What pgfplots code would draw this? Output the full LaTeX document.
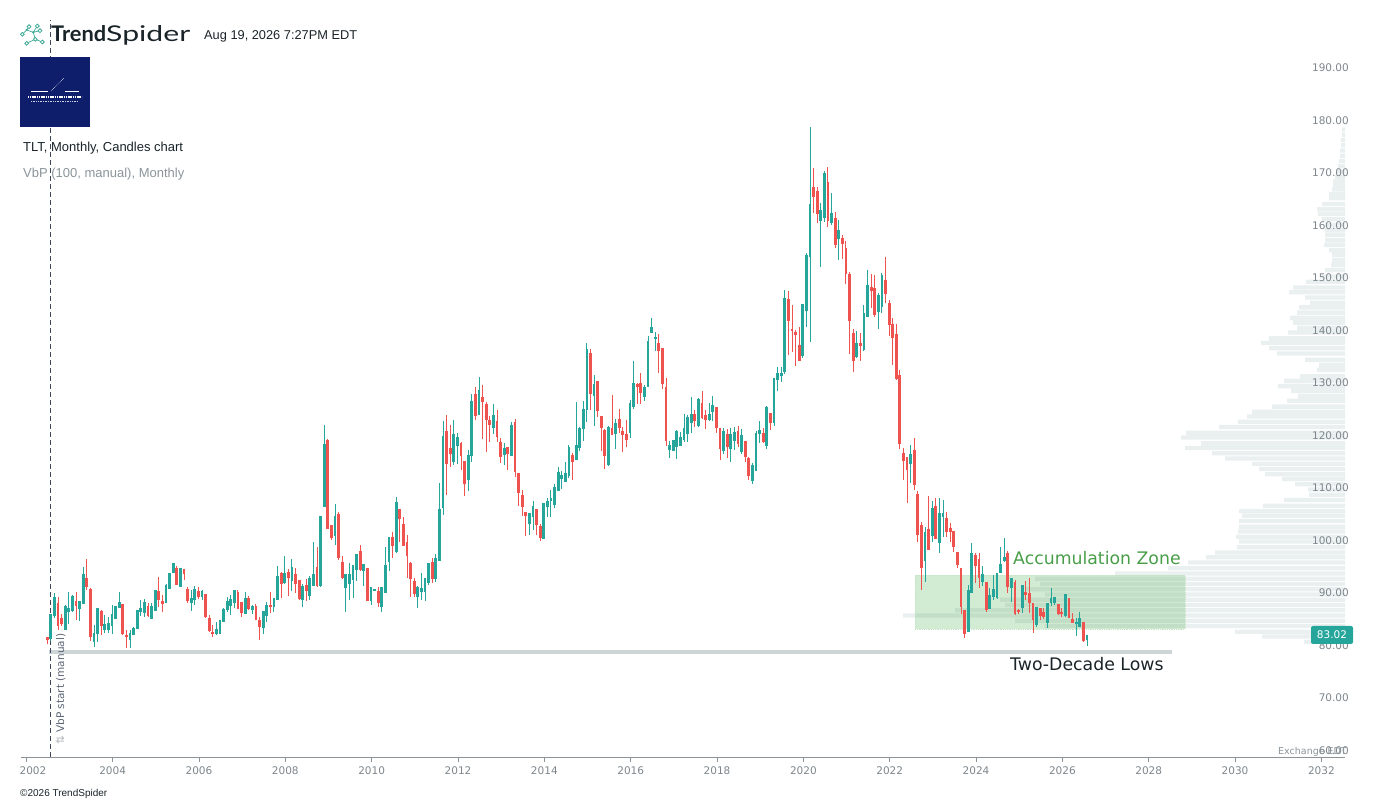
\documentclass[border=0pt]{standalone}
\usepackage{fontspec}
\setmainfont{DejaVu Sans}
\newfontfamily\lib{Liberation Sans}
\newfontfamily\lato{Lato}
\usepackage{graphicx}
\usepackage{pgfplots}
\usepackage{pgfplotstable}
\pgfplotsset{compat=1.18}
\definecolor{upc}{RGB}{38,166,154}
\definecolor{dnc}{RGB}{239,83,80}
\definecolor{vbpc}{RGB}{234,239,240}
\definecolor{tickc}{RGB}{125,134,140}
\definecolor{axisc}{RGB}{140,146,150}
\definecolor{zoneg}{RGB}{76,175,80}
\definecolor{zonee}{RGB}{200,228,200}
\definecolor{accg}{RGB}{72,158,72}
\definecolor{lowc}{RGB}{205,213,214}
\definecolor{dashc}{RGB}{62,74,92}
\definecolor{navy}{RGB}{14,30,107}
\definecolor{darkt}{RGB}{25,35,40}
\definecolor{graytxt}{RGB}{138,148,153}
\definecolor{logoc}{RGB}{60,170,150}

\pgfplotstableread{
i o h l c
0 81.43 81.68 80.29 81.17
1 81.24 86.0 80.9 85.81
2 85.68 89.94 85.3 89.17
3 87.90 89.30 82.95 83.78
4 85.05 86.0 83.72 84.10
5 82.95 87.71 82.95 87.40
6 86.44 90.25 84.10 87.02
7 86.57 89.62 86.44 89.30
8 88.35 90.25 84.86 87.71
9 86.95 88.45 84.73 88.35
10 88.03 95.02 88.0 93.43
11 92.67 96.48 90.57 91.21
12 90.70 90.89 80.92 81.68
13 80.73 83.90 79.78 82.32
14 82.30 87.08 80.73 86.95
15 86.44 86.76 82.0 83.72
16 83.08 85.81 82.32 83.90
17 83.08 85.49 82.45 84.22
18 83.90 87.71 82.13 85.81
19 85.05 87.5 85.0 87.40
20 87.27 90.25 87.08 88.22
21 87.71 87.8 82.0 82.19
22 81.81 82.95 79.46 81.68
23 81.17 82.95 79.46 82.32
24 82.13 83.46 82.0 83.27
25 83.27 86.76 83.2 86.63
26 86.44 88.67 85.62 87.08
27 86.25 88.79 85.37 88.16
28 87.40 88.16 85.49 85.68
29 85.17 88.16 84.98 87.40
30 86.76 90.57 86.7 90.44
31 90.25 93.11 87.40 88.67
32 88.35 89.62 86.44 88.03
33 88.16 91.65 88.1 91.33
34 90.89 93.87 90.8 93.75
35 93.87 95.78 93.75 95.52
36 94.70 95.14 91.52 91.71
37 91.21 94.83 91.1 94.70
38 94.38 94.5 92.48 93.75
39 90.57 91.21 88.16 88.48
40 88.16 90.57 86.63 88.86
41 88.79 91.33 87.71 90.70
42 90.25 91.21 88.79 89.30
43 89.30 90.57 88.67 90.25
44 89.62 89.7 85.3 85.49
45 85.05 85.81 82.63 82.76
46 82.44 83.90 81.68 82.32
47 82.32 84.54 82.0 83.08
48 82.32 84.86 82.19 84.67
49 84.54 87.08 84.5 86.89
50 86.76 89.30 86.44 88.35
51 87.7 89.6 85.8 88.7
52 88.2 90.6 87.2 90.4
53 90.1 90.6 86.9 87.0
54 88.2 88.3 85.5 86.2
55 86.1 90.1 85.9 89.0
56 89.0 89.5 86.8 87.0
57 86.8 87.7 86.0 87.5
58 87.4 87.9 84.8 85.0
59 84.7 85.5 81.0 83.7
60 83.4 86.5 82.1 86.4
61 85.8 88.2 84.5 87.7
62 87.7 90.1 86.1 87.4
63 87.4 89.0 86.3 88.9
64 88.7 95.1 88.6 93.2
65 93.7 94.0 89.1 91.8
66 92.0 97.0 91.8 93.7
67 93.9 94.5 89.5 92.9
68 92.3 96.5 90.4 94.8
69 93.6 94.8 89.9 91.8
70 92.3 92.4 88.7 88.9
71 88.8 91.7 87.4 91.2
72 91.5 92.7 88.5 90.4
73 89.6 93.3 88.6 92.7
74 91.5 99.8 91.4 93.6
75 94.8 98.8 91.2 91.5
76 91.4 104.6 91.2 104.5
77 106.4 122.0 106.3 118.2
78 119.0 119.3 102.2 102.3
79 102.8 102.9 100.1 100.5
80 100.9 107.0 99.1 104.5
81 104.9 105.5 96.3 96.7
82 95.8 97.1 92.6 92.9
83 91.0 93.6 86.4 93.5
84 91.8 95.8 88.7 93.6
85 92.5 95.4 89.1 95.3
86 94.4 97.5 92.3 97.4
87 97.8 99.1 94.1 94.4
88 94.3 95.6 91.4 95.5
89 94.6 94.7 88.4 88.5
90 88.5 91.2 87.7 91.1
91 90.6 90.8 90.4 90.6
92 90.3 91.1 87.4 88.2
93 87.4 91.1 86.4 91.0
94 90.1 98.8 90.0 95.3
95 96.0 100.7 94.1 100.5
96 100.5 101.7 96.6 99.1
97 97.9 108.2 97.7 107.3
98 105.8 105.9 99.8 104.2
99 103.1 104.4 99.0 99.1
100 99.6 101.0 92.8 97.1
101 95.52 95.97 89.30 92.67
102 92.16 92.79 89.17 89.94
103 89.30 91.33 87.08 91.01
104 90.25 93.75 88.67 90.89
105 90.25 92.8 88.54 92.67
106 91.97 95.8 91.5 95.52
107 95.78 96.60 91.97 92.67
108 92.79 97.43 92.16 96.60
109 96.28 110.89 96.0 105.81
110 106.25 122.82 104.86 119.78
111 120.73 123.90 108.67 114.57
112 117.56 122.0 114.06 116.48
113 115.02 122.95 114.38 120.09
114 118.06 120.54 114.57 119.65
115 118.51 118.82 113.43 116.10
116 115.02 115.2 108.48 110.76
117 111.71 117.24 109.49 116.10
118 116.10 127.90 115.02 126.44
119 127.71 129.17 122.95 123.90
120 124.09 131.21 124.0 128.48
121 127.27 129.62 119.33 126.44
122 125.81 126.32 116.92 122.95
123 122.82 123.71 118.82 122.0
124 121.49 126.0 120.28 123.71
125 122.63 124.86 118.82 119.90
126 118.57 119.46 114.70 115.97
127 116.29 118.51 114.38 117.43
128 117.68 117.8 113.43 116.60
129 116.10 122.63 116.0 121.87
130 122.44 123.08 112.16 113.11
131 112.67 112.8 106.63 109.11
132 108.48 109.62 104.67 106.44
133 105.30 105.4 100.92 104.67
134 103.14 105.3 101.05 105.17
135 104.54 107.59 102.0 106.44
136 105.81 105.9 101.05 103.14
137 102.63 103.14 99.97 100.54
138 100.29 107.1 100.2 107.08
139 106.44 108.16 104.54 107.33
140 107.71 109.62 104.54 107.97
141 106.95 110.76 106.13 110.06
142 109.49 114.06 109.4 112.92
143 111.84 113.24 109.75 112.35
144 111.21 115.02 111.08 112.79
145 112.29 118.19 111.84 117.75
146 116.10 116.60 111.52 115.02
147 115.52 126.44 115.4 118.0
148 117.68 121.68 117.05 121.24
149 121.24 126.63 119.01 124.86
150 124.86 137.6 122.6 136.3
151 135.52 136.5 124.9 128.03
152 127.71 131.52 121.81 129.62
153 130.25 130.4 123.46 124.67
154 123.59 123.7 117.05 121.49
155 120.92 121.24 113.62 116.16
156 114.38 121.87 114.25 121.49
157 121.24 127.71 120.0 120.10
158 120.29 123.14 117.43 122.32
159 122.95 125.05 120.54 121.49
160 120.73 121.68 116.86 120.10
161 120.10 122.95 117.87 119.14
162 120.54 126.76 119.59 126.0
163 125.49 134.19 125.05 129.81
164 129.62 129.94 126.0 129.30
165 129.81 131.84 126.0 128.16
166 127.40 129.62 126.57 129.11
167 129.30 138.95 129.17 137.87
168 139.59 142.32 139.46 140.54
169 138.38 139.65 136.1 138.70
170 137.43 139.33 131.97 136.16
171 136.48 136.6 128.86 129.81
172 129.11 130.89 118.06 119.02
173 117.37 119.02 115.78 118.06
174 117.05 119.1 117.0 119.02
175 117.87 121.05 115.46 120.73
176 118.06 120.73 118.0 119.59
177 119.27 124.03 118.83 121.24
178 120.41 123.91 118.83 123.46
179 122.45 127.27 120.41 123.91
180 123.91 124.86 121.56 122.83
181 121.81 127.08 121.7 126.76
182 126.13 128.48 123.08 123.46
183 123.71 124.86 121.24 123.14
184 122.95 126.13 122.83 123.91
185 124.54 127.52 122.83 125.62
186 125.30 125.4 120.54 121.49
187 121.37 121.49 115.33 117.43
188 117.11 121.37 116.48 120.73
189 120.10 121.24 115.78 117.87
190 117.43 121.49 115.02 120.10
191 118.95 121.56 117.24 120.54
192 120.73 121.87 117.75 118.38
193 116.92 121.24 116.48 119.91
194 118.83 119.02 114.89 115.97
195 115.52 115.97 111.52 112.29
196 111.52 114.70 110.76 114.19
197 113.30 120.9 113.2 120.29
198 120.29 122.83 118.64 120.92
199 120.29 121.49 118.51 118.83
200 118.06 125.62 117.43 125.30
201 124.22 124.35 121.05 122.45
202 122.45 130.8 121.81 130.76
203 130.57 133.11 128.54 131.71
204 131.40 133.11 130.25 131.71
205 132.16 147.71 131.8 146.13
206 145.94 147.59 135.33 141.87
207 140.1 144.86 135.97 140.0
208 139.59 140.10 133.24 139.27
209 137.05 140.73 134.2 134.25
210 135.33 144.9 134.83 144.86
211 143.78 154.83 140.73 154.19
212 154.06 178.70 137.87 163.90
213 167.27 171.02 162.43 165.49
214 166.44 167.4 160.54 162.32
215 160.92 164.22 152.16 162.76
216 161.49 170.38 160.73 169.81
217 168.16 171.21 159.65 160.92
218 160.54 166.25 160.10 162.19
219 161.37 162.63 155.78 156.29
220 157.43 161.05 153.43 158.95
221 157.43 158.19 153.62 156.60
222 155.52 157.11 148.86 150.76
223 150.57 151.21 135.52 141.87
224 139.46 140.29 132.16 134.25
225 135.14 139.97 134.70 137.43
226 137.56 139.59 134.25 137.05
227 136.41 144.86 136.16 143.14
228 142.63 151.52 142.51 148.48
229 148.22 150.76 144.35 147.59
230 148.03 150.57 142.63 142.95
231 143.59 147.21 140.29 146.57
232 144.54 150.89 143.40 150.38
233 149.43 154.06 145.30 146.95
234 145.17 145.81 138.95 141.05
235 141.05 142.32 133.43 138.70
236 139.14 141.24 130.57 130.89
237 131.5 132.5 117.37 118.51
238 116.60 117.56 111.52 115.21
239 115.84 115.97 107.08 113.56
240 114.57 118.19 111.02 116.29
241 117.05 119.46 109.62 110.57
242 108.67 109.43 99.78 101.17
243 102.76 103.46 90.57 94.83
244 96.16 102.63 92.16 101.56
245 102.0 108.48 98.2 98.32
246 100.92 107.52 99.78 106.0
247 106.44 108.16 100.2 100.29
248 99.59 108.03 97.68 105.17
249 104.54 107.71 100.73 105.17
250 104.10 105.49 100.60 101.68
251 102.19 103.27 99.65 101.68
252 101.68 101.87 97.75 98.83
253 97.68 97.87 94.70 95.46
254 94.57 94.7 86.0 87.4
255 86.57 86.7 81.37 82.32
256 82.63 91.52 82.5 90.38
257 90.13 99.46 90.0 97.56
258 97.05 97.68 91.97 95.33
259 96.29 97.68 90.89 92.92
260 92.16 95.14 91.40 93.43
261 92.03 92.16 86.32 86.89
262 87.08 91.02 86.95 89.43
263 89.30 93.43 88.67 90.57
264 89.11 93.75 88.86 93.62
265 93.94 98.83 93.75 95.33
266 96.16 100.41 95.97 96.79
267 97.56 98.06 89.94 91.21
268 91.02 92.9 88.35 92.79
269 92.03 92.48 85.81 86.0
270 86.6 87.0 86.0 86.5
271 87.27 91.4 86.25 91.33
272 90.13 92.29 88.67 89.68
273 89.94 92.79 86.13 88.16
274 88.03 88.1 82.32 84.86
275 84.03 87.3 83.59 87.21
276 86.95 87.08 84.86 85.68
277 86.32 87.08 84.98 85.49
278 84.35 88.1 83.27 88.03
279 88.22 90.89 87.52 88.98
280 88.22 89.2 87.71 89.11
281 87.71 87.84 85.81 86.0
282 86.25 87.08 85.49 86.0
283 85.75 89.7 85.49 89.62
284 88.86 88.9 85.17 85.37
285 84.98 86.13 84.22 84.35
286 84.22 85.30 81.81 84.41
287 83.59 86.44 83.46 85.17
288 84.35 84.4 80.73 80.92
289 81.05 82.0 79.9 81.81
}\candles

\pgfplotstableread{
p w
80.7 41
81.7 83
82.6 110
83.7 300
84.7 330
85.7 442
86.7 390
87.7 340
88.7 345
89.7 300
90.7 320
91.7 305
92.7 310
93.7 230
94.7 177
95.8 157
96.8 139
97.7 130
98.7 108
99.8 106
100.7 109
101.7 107
102.6 106
103.7 106
104.7 103
105.6 106
106.6 82
107.7 61
108.7 36
109.7 37
110.7 50
111.7 63
112.6 80
113.6 86
114.6 93
115.6 120
116.6 133
117.6 160
118.5 144
119.6 164
120.5 159
121.6 126
122.6 107
123.6 98
124.5 93
125.5 73
126.6 58
127.5 47
128.5 54
129.4 67
130.4 61
131.3 45
132.5 28
133.4 26
134.4 40
135.6 68
136.6 76
137.6 84
138.5 76
139.6 57
140.5 48
141.5 52
142.4 55
143.4 48
144.4 46
145.3 35
146.3 40
147.3 56
148.2 52
149.3 39
150.3 25
151.5 20
152.5 14
153.4 13
154.4 13
155.3 16
156.3 21
157.2 20
158.2 20
159.1 20
160.1 20
161.2 23
162.2 27
163.1 28
164.1 23
165.2 16
166.0 16
166.9 13
167.7 12
168.4 12
169.3 10
170.3 8
171.3 7
172.3 6
173.3 5
174.3 5
175.3 4
176.3 4
177.3 3
178.3 3
}\vbp

\pgfplotsset{
  candle/.style 2 args={draw=none, mark=none, forget plot,
    error bars/y dir=both, error bars/y explicit, error bars/error mark=none,
    error bars/error bar style={line width=#1, draw=#2, solid}},
}

\begin{document}
\begin{tikzpicture}[x=1pt,y=1pt]
\useasboundingbox (0,0) rectangle (1375,803);
% volume by price histogram
\begin{axis}[at={(21pt,46pt)}, anchor=south west, width=1324pt, height=757pt, scale only axis,
  xmin=0, xmax=1324, x dir=reverse, ymin=58.762, ymax=202.952, hide axis, clip=true]
\addplot[xbar, bar width=4.3pt, bar shift=0pt, fill=vbpc, draw=none] table[x=w, y=p] {\vbp};
\end{axis}
% main axis
\begin{axis}[at={(21pt,46pt)}, anchor=south west, width=1324pt, height=757pt, scale only axis,
  xmin=2001.8772, xmax=2032.5467, ymin=58.762, ymax=202.952,
  axis x line*=bottom, axis y line*=right,
  y axis line style={draw=none},
  x axis line style={draw=axisc, line width=0.9pt},
  xtick={2002,2004,...,2032},
  xticklabels={\hphantom{00}2002,2004,2006,2008,2010,2012,2014,2016,2018,2020,2022,2024,2026,2028,2030,2032},
  xtick align=outside, major tick length=5pt,
  xtick style={draw=axisc, line width=0.9pt},
  ytick={60,70,...,190},
  ytick style={draw=none},
  /pgf/number format/assume math mode=true,
  y tick label style={anchor=east, inner sep=0pt, xshift=4pt, font=\fontsize{10.5}{12}\selectfont, text=tickc,
     /pgf/number format/fixed, /pgf/number format/fixed zerofill, /pgf/number format/precision=2},
  x tick label style={font=\fontsize{10.5}{12}\selectfont, text=tickc, yshift=-1.5pt},
  clip=true]
% accumulation zone
\addplot[fill=zoneg, fill opacity=0.25, draw=zonee, densely dotted, line width=0.8pt]
  coordinates {(2022.586,83.14) (2028.838,83.14) (2028.838,93.37) (2022.586,93.37)} -- cycle;
% two-decade low line
\addplot[draw=lowc, line width=3.2pt] coordinates {(2002.517,78.76) (2028.55,78.76)};
% VbP start dashed line
\addplot[draw=dashc, line width=1pt, dash pattern=on 5pt off 3pt] coordinates {(2002.572,58.762) (2002.572,199.1)};
% candles: wicks (candles of the other colour are sent far below the axis and clipped)
\addplot[candle={0.9pt}{upc}]
  table[x expr=2002.486+\thisrow{i}/12,
        y expr={ifthenelse(\thisrow{c}>=\thisrow{o},(\thisrow{h}+\thisrow{l})/2,-500)},
        y error expr=(\thisrow{h}-\thisrow{l})/2] {\candles};
\addplot[candle={0.9pt}{dnc}]
  table[x expr=2002.486+\thisrow{i}/12,
        y expr={ifthenelse(\thisrow{c}<\thisrow{o},(\thisrow{h}+\thisrow{l})/2,-500)},
        y error expr=(\thisrow{h}-\thisrow{l})/2] {\candles};
% candles: bodies
\addplot[candle={2.8pt}{upc}]
  table[x expr=2002.486+\thisrow{i}/12,
        y expr={ifthenelse(\thisrow{c}>=\thisrow{o},(\thisrow{o}+\thisrow{c})/2,-500)},
        y error expr=abs(\thisrow{c}-\thisrow{o})/2+0.1] {\candles};
\addplot[candle={2.8pt}{dnc}]
  table[x expr=2002.486+\thisrow{i}/12,
        y expr={ifthenelse(\thisrow{c}<\thisrow{o},(\thisrow{o}+\thisrow{c})/2,-500)},
        y error expr=abs(\thisrow{c}-\thisrow{o})/2+0.1] {\candles};
\end{axis}

% annotations
\node[anchor=base west, inner sep=0pt, font=\fontsize{17.3}{20}\selectfont, text=accg] at (1013,238) {Accumulation Zone};
\node[anchor=base west, inner sep=0pt, font=\fontsize{17.3}{20}\selectfont, text=darkt] at (1010,132) {Two-Decade Lows};
\node[fill=upc, rounded corners=2pt, text=white, minimum width=42pt, minimum height=18pt, inner sep=0pt,
  font=\fontsize{10.5}{12}\selectfont] at (1332,168) {83.02};
\node[anchor=base west, inner sep=0pt, font=\fontsize{9.5}{11}\selectfont, text=graytxt] at (1278,49) {Exchange EDT};
\node[rotate=90, anchor=base west, inner sep=0pt, font=\fontsize{10.5}{12}\selectfont, text=dashc!85] at (64,58)
  {{\color{graytxt!70}⇅}\ VbP start (manual)};

% header
\draw[logoc, line width=0.7pt] (22.3,768.7) -- (26.7,773) -- (29,776.3) (26.7,773) -- (33.3,770.7) -- (37.3,777) (33.3,770.7) -- (40,772.3) (33.3,770.7) -- (35.3,763.7) -- (42.3,761) (35.3,763.7) -- (26.7,759.7);
\foreach \p in {(22.3,768.7),(29,776.3),(37.3,777),(40,772.3),(42.3,761),(26.7,759.7),(35.3,763.7)}
  \filldraw[draw=logoc, fill=white, line width=0.8pt] \p circle (1.9);
\fill[logoc] (26.7,773) circle (1.2) (33.3,770.7) circle (1.3);
\node[anchor=base west, inner sep=0pt, text=darkt] at (51,761)
  {\resizebox{55pt}{16pt}{\lato\bfseries Trend}\resizebox{84pt}{16pt}{\lato Spider}};
\node[anchor=base west, inner sep=0pt, font=\lib\fontsize{12.8}{15}\selectfont, text=darkt] at (204,763) {Aug 19, 2026 7:27PM EDT};
\fill[navy] (20,676) rectangle (90,746);
\draw[white, line width=0.6pt] (31,712) -- (48,712) (65,712) -- (79,712);
\draw[white, line width=0.6pt, densely dotted] (51,712) -- (64,725);
\draw[white, line width=1.2pt, dash pattern=on 1.2pt off 0.6pt] (28,706) -- (82,706);
\draw[white!80!navy, line width=0.9pt, dash pattern=on 1pt off 0.7pt] (31,702) -- (78,702);
\node[anchor=base west, inner sep=0pt, font=\lib\fontsize{13}{15}\selectfont, text=darkt] at (23,651.3) {TLT, Monthly, Candles chart};
\node[anchor=base west, inner sep=0pt, font=\lib\fontsize{13}{15}\selectfont, text=graytxt] at (23,625.5) {VbP (100, manual), Monthly};
\node[anchor=base west, inner sep=0pt, font=\lib\fontsize{10}{12}\selectfont, text=darkt] at (20,6.3) {©2026 TrendSpider};
\end{tikzpicture}
\end{document}
